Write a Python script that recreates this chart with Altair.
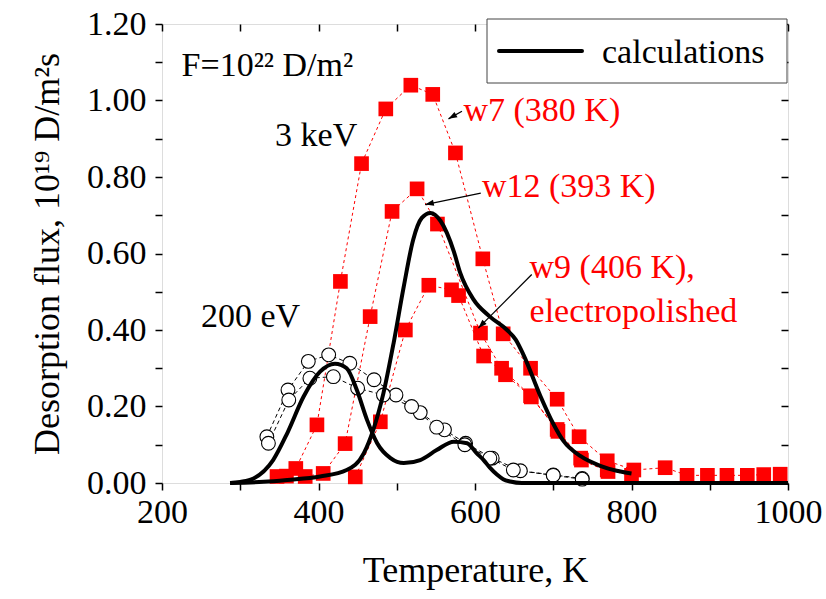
import altair as alt
import pandas as pd

FONT = "Liberation Serif"
RED = "#ff0000"

# ---- experimental data (3 keV, red squares) ----
w7_T = [347, 359, 371, 398, 428, 455, 486, 518, 546, 575, 610, 636, 671, 705, 733, 769, 803, 843, 871, 897, 922, 948, 969, 990]
w7_v = [0.017, 0.018, 0.038, 0.152, 0.527, 0.835, 0.978, 1.04, 1.016, 0.863, 0.586, 0.39, 0.30, 0.219, 0.121, 0.058, 0.034, 0.04, 0.02, 0.02, 0.02, 0.02, 0.022, 0.023]

w12_T = [383, 406, 434, 466, 494, 526, 552, 607, 634, 671, 705, 735, 769, 800]
w12_v = [0.017, 0.025, 0.103, 0.435, 0.71, 0.769, 0.677, 0.392, 0.30, 0.228, 0.14, 0.065, 0.034, 0.02]

w9_T = [447, 479, 511, 541, 570, 579, 611, 639, 672, 706, 736, 770]
w9_v = [0.016, 0.16, 0.40, 0.517, 0.505, 0.49, 0.332, 0.283, 0.225, 0.135, 0.06, 0.03]

# ---- experimental data (200 eV, open circles, two runs) ----
ca_T = [334, 361, 387, 413, 440, 471, 499, 530, 561, 588, 622, 658, 700, 737]
ca_v = [0.121, 0.243, 0.318, 0.335, 0.313, 0.27, 0.23, 0.184, 0.139, 0.104, 0.065, 0.032, 0.021, 0.012]
cb_T = [336, 362, 389, 419, 450, 483, 519, 551, 587, 619, 649, 700, 737]
cb_v = [0.104, 0.217, 0.274, 0.278, 0.248, 0.23, 0.20, 0.146, 0.10, 0.065, 0.034, 0.02, 0.01]

# ---- calculations ----
calcA_T = [287, 300, 317, 342, 360, 381, 402, 421, 436, 449, 462, 475, 492, 509, 530, 551, 573, 590, 602, 611, 619, 628, 636, 645, 660, 700, 800, 900, 1000]
calcA_v = [0.0, 0.003, 0.012, 0.06, 0.13, 0.226, 0.291, 0.312, 0.30, 0.243, 0.165, 0.104, 0.065, 0.052, 0.06, 0.086, 0.108, 0.104, 0.078, 0.06, 0.04, 0.022, 0.01, 0.004, 0.0, 0.0, 0.0, 0.0, 0.0]

calcB_T = [287, 330, 360, 402, 436, 458, 470, 483, 496, 509, 521, 532, 543, 556, 573, 581, 598, 619, 641, 652, 662, 683, 700, 713, 735, 760, 781, 800]
calcB_v = [0.0, 0.003, 0.008, 0.017, 0.034, 0.078, 0.139, 0.235, 0.366, 0.514, 0.636, 0.693, 0.706, 0.685, 0.605, 0.55, 0.48, 0.435, 0.40, 0.375, 0.335, 0.23, 0.155, 0.11, 0.07, 0.045, 0.032, 0.025]

# ---- axis ticks ----
x_ticks = [200, 300, 400, 500, 600, 700, 800, 900, 1000]
y_ticks = [0.0, 0.1, 0.2, 0.3, 0.4, 0.5, 0.6, 0.7, 0.8, 0.9, 1.0, 1.1, 1.2]

xs = alt.Scale(domain=[200, 1000], nice=False, zero=False)
ys = alt.Scale(domain=[0, 1.2], nice=False, zero=False)


def df(T, v):
    return pd.DataFrame({"T": T, "v": v})


def enc(chart, xaxis=None, yaxis=None):
    return chart.encode(
        x=alt.X("T:Q", scale=xs, axis=xaxis),
        y=alt.Y("v:Q", scale=ys, axis=yaxis),
    )


xaxis_main = alt.Axis(
    values=x_ticks, labelExpr="datum.value % 200 == 0 ? datum.label : ''", format="d",
    tickSize=7, tickWidth=1.5, tickColor="black", domain=False, grid=False,
    labelFont=FONT, labelFontSize=34, labelColor="black", labelPadding=5, labelFlush=False,
    title="Temperature, K", titleFont=FONT, titleFontSize=36, titleFontWeight="normal",
    titleColor="black", titlePadding=24,
)
yaxis_main = alt.Axis(
    values=y_ticks, labelExpr="round(datum.value*10) % 2 == 0 ? format(datum.value, '.2f') : ''",
    tickSize=7, tickWidth=1.5, tickColor="black", domain=False, grid=False,
    labelFont=FONT, labelFontSize=34, labelColor="black", labelPadding=9, labelFlush=False,
    title="Desorption flux, 10¹⁹ D/m²s", titleFont=FONT, titleFontSize=36, titleFontWeight="normal",
    titleColor="black", titlePadding=20,
)
xaxis_top = alt.Axis(values=x_ticks, orient="top", labels=False, tickSize=7, tickWidth=1.5,
                     tickColor="black", domain=False, grid=False, title=None, offset=-7)
yaxis_right = alt.Axis(values=y_ticks, orient="right", labels=False, tickSize=7, tickWidth=1.5,
                       tickColor="black", domain=False, grid=False, title=None, offset=-7)

layers = []

# red dashed connecting lines + squares
for T, v in [(w7_T, w7_v), (w12_T, w12_v), (w9_T, w9_v)]:
    layers.append(enc(alt.Chart(df(T, v)).mark_line(color=RED, strokeWidth=1, strokeDash=[3, 3])))
for T, v in [(w7_T, w7_v), (w12_T, w12_v), (w9_T, w9_v)]:
    layers.append(enc(alt.Chart(df(T, v)).mark_square(color=RED, size=215, opacity=1)))

# circles
for T, v in [(ca_T, ca_v), (cb_T, cb_v)]:
    layers.append(enc(alt.Chart(df(T, v)).mark_line(color="black", strokeWidth=1, strokeDash=[4, 3])))
for T, v in [(ca_T, ca_v), (cb_T, cb_v)]:
    layers.append(enc(alt.Chart(df(T, v)).mark_point(shape="circle", size=190, filled=True,
                                                       fill="white", stroke="black", strokeWidth=1.1, opacity=1)))

# calculations
for T, v in [(calcA_T, calcA_v), (calcB_T, calcB_v)]:
    layers.append(enc(alt.Chart(df(T, v)).mark_line(color="black", strokeWidth=4, interpolate="monotone")))

# axes layers
axis_layer = enc(alt.Chart(df(calcA_T, calcA_v)).mark_line(opacity=0), xaxis_main, yaxis_main)
mirror_layer = enc(alt.Chart(df(calcA_T, calcA_v)).mark_line(opacity=0), xaxis_top, yaxis_right)

# text annotations
labels_black = pd.DataFrame({
    "T": [225, 344.5],
    "v": [1.063, 0.882],
    "txt": ["F=10²² D/m²", "3 keV"],
})
labels_black_r = pd.DataFrame({"T": [376.5], "v": [0.409], "txt": ["200 eV"]})
labels_red = pd.DataFrame({
    "T": [585.3, 608.8, 669.7, 669.7],
    "v": [0.946, 0.749, 0.536, 0.422],
    "txt": ["w7 (380 K)", "w12 (393 K)", "w9 (406 K),", "electropolished"],
})


def text_layer(d, color, align):
    return alt.Chart(d).mark_text(font=FONT, fontSize=34, color=color, align=align,
                                  baseline="alphabetic").encode(
        x=alt.X("T:Q", scale=xs, axis=None), y=alt.Y("v:Q", scale=ys, axis=None), text="txt:N")


layers.append(text_layer(labels_black, "black", "left"))
layers.append(text_layer(labels_black_r, "black", "right"))
layers.append(text_layer(labels_red, RED, "left"))

# arrows (label pointers)
arrows = pd.DataFrame({
    "T": [583.3, 607.4, 672.5],
    "v": [0.972, 0.758, 0.545],
    "T2": [566.1, 536.3, 604.3],
    "v2": [0.952, 0.728, 0.405],
    "ang": [240, 258, 225],
})
layers.append(alt.Chart(arrows).mark_rule(color="black", strokeWidth=1.2).encode(
    x=alt.X("T:Q", scale=xs, axis=None), y=alt.Y("v:Q", scale=ys, axis=None),
    x2="T2:Q", y2="v2:Q"))
layers.append(alt.Chart(arrows).mark_point(shape="M0,0L0.35,1L-0.35,1Z", size=300, filled=True,
                                           color="black", opacity=1).encode(
    x=alt.X("T2:Q", scale=xs, axis=None), y=alt.Y("v2:Q", scale=ys, axis=None),
    angle=alt.Angle("ang:Q", scale=None)))

# legend box
legend_df = pd.DataFrame({"txt": ["calculations"]})
layers.append(alt.Chart(legend_df).mark_rect(fill="white", stroke="#444444", strokeWidth=1).encode(
    x=alt.value(325), x2=alt.value(625), y=alt.value(-5), y2=alt.value(59)))
layers.append(alt.Chart(legend_df).mark_rule(color="black", strokeWidth=4, strokeCap="round").encode(
    x=alt.value(337), x2=alt.value(420), y=alt.value(27)))
layers.append(alt.Chart(legend_df).mark_text(font=FONT, fontSize=34, color="black", align="left",
                                              baseline="alphabetic").encode(
    x=alt.value(440), y=alt.value(39), text="txt:N"))

chart = alt.layer(axis_layer, mirror_layer, *layers).resolve_axis(
    x="independent", y="independent"
).properties(
    width=626, height=459,
    autosize=alt.AutoSizeParams(type="none"),
    padding={"left": 162, "top": 24, "right": 38, "bottom": 116},
).configure_view(stroke="black", strokeWidth=2).configure(background="white")

chart.save("out.html", embed_options={"renderer": "svg", "actions": False})
